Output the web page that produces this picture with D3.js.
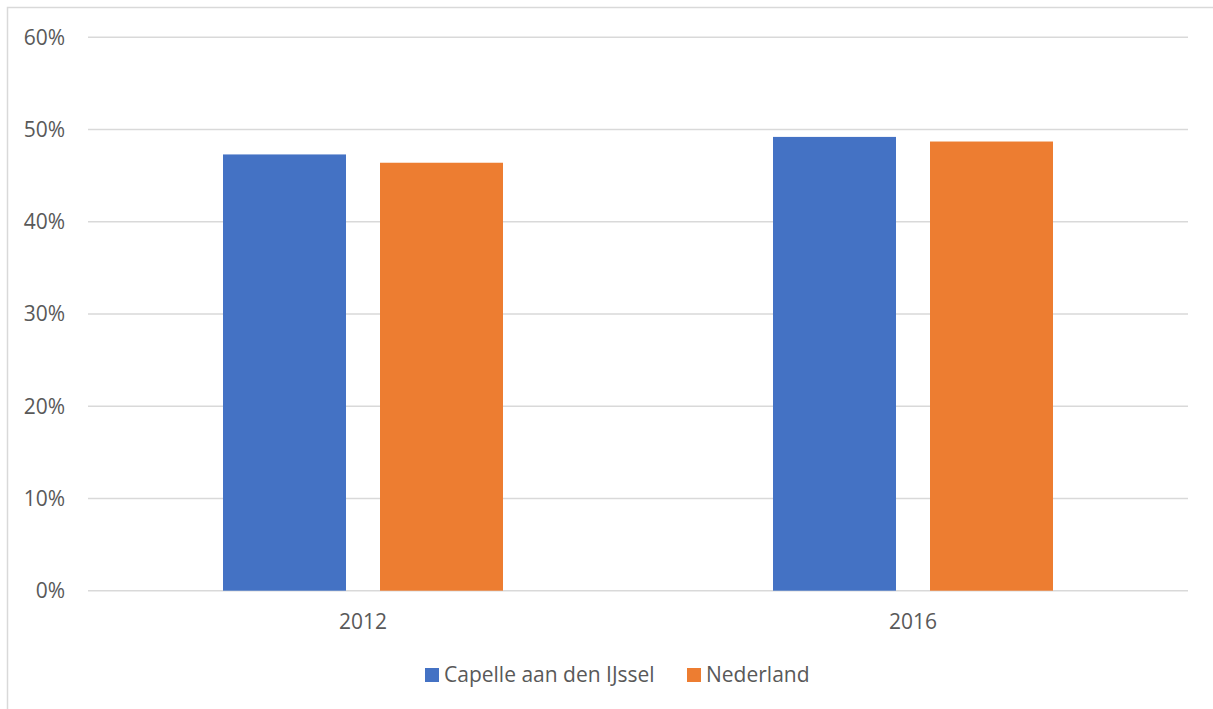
<!DOCTYPE html>
<html>
<head>
<meta charset="utf-8">
<script src="https://cdn.jsdelivr.net/npm/d3@7"></script>
<style>
  html, body { margin: 0; padding: 0; background: #fff; }
  svg { display: block; }
  text { font-family: "Open Sans", "Noto Sans", sans-serif; fill: #595959; }
</style>
</head>
<body>
<svg id="chart" width="1213" height="709"></svg>
<script>
const categories = ["2012", "2016"];
const seriesNames = ["Capelle aan den IJssel", "Nederland"];
const capelleValues = [0.473, 0.492];
const nederlandValues = [0.464, 0.487];
const yTicks = [0, 0.1, 0.2, 0.3, 0.4, 0.5, 0.6];
const colors = ["#4472C4", "#ED7D31"];

const seriesValues = [capelleValues, nederlandValues];

const svg = d3.select("#chart");
const W = 1213, H = 709;
const FS = 21;

// outer chart border
svg.append("rect")
  .attr("x", 7.5).attr("y", 7.5)
  .attr("width", W + 10).attr("height", H + 10)
  .attr("fill", "none").attr("stroke", "#d9d9d9").attr("stroke-width", 1.5);

const plot = { left: 88, right: 1188, top: 37.3, bottom: 590.7 };

const x0 = d3.scaleBand().domain(categories).range([plot.left, plot.right]).paddingInner(0).paddingOuter(0);
const y = d3.scaleLinear().domain([0, 0.6]).range([plot.bottom, plot.top]);

// gridlines
svg.append("g").selectAll("line").data(yTicks).join("line")
  .attr("x1", plot.left).attr("x2", plot.right)
  .attr("y1", d => y(d)).attr("y2", d => y(d))
  .attr("stroke", "#d9d9d9").attr("stroke-width", 1.5);

// y axis labels
const yAxis = d3.axisLeft(y).tickValues(yTicks).tickFormat(d3.format(".0%")).tickSize(0).tickPadding(0);
const yg = svg.append("g").attr("transform", `translate(65,0)`).call(yAxis);
yg.select(".domain").remove();
yg.selectAll("text").attr("font-size", FS).attr("fill", "#595959")
  .style("font-family", '"Open Sans", sans-serif').attr("dy", "0.33em");

// bars
const barW = 123, gap = 34;
const groupW = barW * 2 + gap;
const x1 = d3.scaleOrdinal().domain([0, 1]).range([0, barW + gap]);

const groups = svg.append("g").selectAll("g").data(categories).join("g")
  .attr("transform", c => `translate(${x0(c) + x0.bandwidth() / 2 - groupW / 2},0)`);

groups.selectAll("rect").data((c, i) => seriesValues.map((vals, s) => ({ s, v: vals[i] })))
  .join("rect")
  .attr("x", d => x1(d.s))
  .attr("width", barW)
  .attr("y", d => y(d.v))
  .attr("height", d => y(0) - y(d.v))
  .attr("fill", d => colors[d.s]);

// x axis labels
const xAxis = d3.axisBottom(x0).tickSize(0).tickPadding(0);
const xg = svg.append("g").attr("transform", `translate(0,${plot.bottom})`).call(xAxis);
xg.select(".domain").remove();
xg.selectAll("text").attr("font-size", FS).attr("fill", "#595959")
  .style("font-family", '"Open Sans", sans-serif').attr("y", 38.5).attr("dy", 0);

// legend
const legendItems = [
  { name: seriesNames[0], color: colors[0], x: 425 },
  { name: seriesNames[1], color: colors[1], x: 687 }
];
const lg = svg.append("g").selectAll("g").data(legendItems).join("g")
  .attr("transform", d => `translate(${d.x},668)`);
lg.append("rect").attr("width", 14).attr("height", 14).attr("fill", d => d.color);
lg.append("text").attr("x", 19).attr("y", 14).attr("font-size", FS).text(d => d.name);
</script>
</body>
</html>
